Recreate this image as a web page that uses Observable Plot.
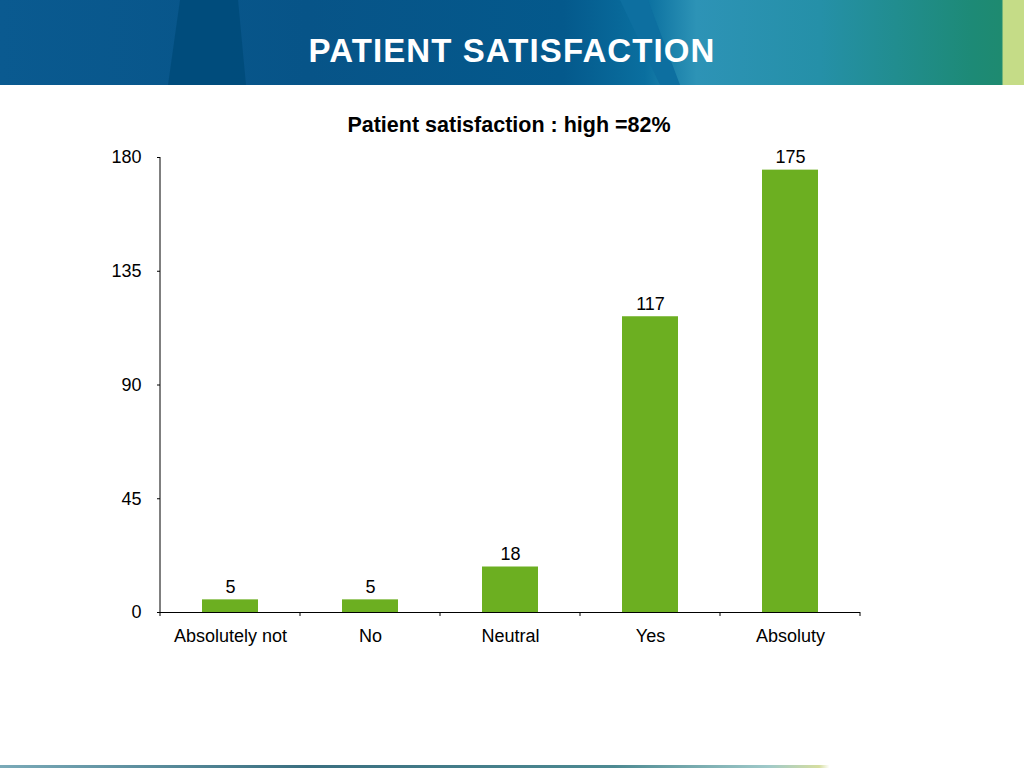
<!DOCTYPE html>
<html>
<head>
<meta charset="utf-8">
<script src="https://cdn.jsdelivr.net/npm/d3@7"></script>
<script src="https://cdn.jsdelivr.net/npm/@observablehq/plot@0.6"></script>
<style>
  html, body { margin: 0; padding: 0; background: #fff; width: 1024px; height: 768px; overflow: hidden; font-family: "Liberation Sans", Arial, sans-serif; }
  #banner { position: absolute; left: 0; top: 0; width: 1024px; height: 85px;
    background: linear-gradient(90deg, #0a5a90 0%, #075488 30%, #04598c 55%, #0a6f9f 63%, #2d93b6 68%, #2590a8 80%, #1d8a76 95%, #1e8a70 97.8%, #c5dc87 98%, #c5dc87 100%); overflow: hidden; }
  #wedge { position: absolute; left: 168px; top: 0; width: 80px; height: 85px; background: #004b7a; clip-path: polygon(12px 0, 70px 0, 78px 85px, 0 85px); opacity: 0.9; }
  #wedge2 { position: absolute; left: 620px; top: 0; width: 60px; height: 85px; background: #0d6fa0; clip-path: polygon(0 0, 28px 0, 60px 85px, 40px 85px); }
  #bannerTitle { position: absolute; left: 0; top: 30px; width: 1024px; text-align: center; color: #fff; font-weight: bold; font-size: 33px; letter-spacing: 1.1px; line-height: 42px; }
  #chartTitle { position: absolute; left: 0; top: 113px; width: 1018px; text-align: center; font-weight: bold; font-size: 21.5px; color: #000; }
  #chart { position: absolute; left: 0; top: 140px; }
  #bottomStrip { position: absolute; left: 0; top: 765px; width: 1024px; height: 3px;
    background: linear-gradient(90deg, #7aaab8 0%, #3a6f80 30%, #4d8a92 60%, #9fc9c9 75%, #d6dea0 80%, #ffffff 81%); }
</style>
</head>
<body>
<div id="banner"><div id="wedge"></div><div id="wedge2"></div><div id="bannerTitle">PATIENT SATISFACTION</div></div>
<div id="chartTitle">Patient satisfaction : high =82%</div>
<div id="chart"></div>
<div id="bottomStrip"></div>
<script>
const categories = ["Absolutely not", "No", "Neutral", "Yes", "Absoluty"];
const counts = [5, 5, 18, 117, 175];
const yTicks = [0, 45, 90, 135, 180];

const data = categories.map((c, i) => ({category: c, count: counts[i]}));

const plot = Plot.plot({
  width: 1024,
  height: 520,
  marginLeft: 160,
  marginRight: 164,
  marginTop: 17,
  marginBottom: 48,
  style: { fontFamily: "Liberation Sans, Arial, sans-serif", fontSize: "18px", color: "#000", background: "transparent" },
  x: { domain: categories, label: null, paddingInner: 0.6, paddingOuter: 0.3, align: 0.5 },
  y: { domain: [0, 180], label: null, ticks: yTicks },
  marks: [
    Plot.gridY(yTicks, { stroke: "#808080", strokeOpacity: 1, strokeWidth: 1, x1: 158, x2: 860 }),
    Plot.barY(data, { x: "category", y: "count", fill: "#6caf21" }),
    Plot.axisY({ ticks: yTicks, tickSize: 3, tickPadding: 16, fontSize: 18, label: null }),
    Plot.axisX({ tickSize: 0, tickPadding: 17, fontSize: 18, label: null }),
    Plot.ruleY([0], { stroke: "#000", strokeWidth: 1 }),
    Plot.text(data, { x: "category", y: "count", text: d => String(d.count), dy: -13, fontSize: 18, fill: "#000" })
  ]
});
document.getElementById("chart").appendChild(plot);

// y-axis line and category boundary tick marks drawn from the scales
const svg = d3.select(plot);
const xs = plot.scale("x");
const ys = plot.scale("y");
const y0 = ys.apply(0);
const yTop = ys.apply(180);
const left = 160;
svg.append("line").attr("x1", left).attr("x2", left).attr("y1", yTop).attr("y2", y0).attr("stroke", "#000");
const step = xs.step;
const bounds = categories.map(c => xs.apply(c) - (step - xs.bandwidth) / 2);
bounds.push(bounds[bounds.length - 1] + step);
bounds.forEach(b => svg.append("line").attr("x1", b).attr("x2", b).attr("y1", y0).attr("y2", y0 + 4).attr("stroke", "#000"));
</script>
</body>
</html>
